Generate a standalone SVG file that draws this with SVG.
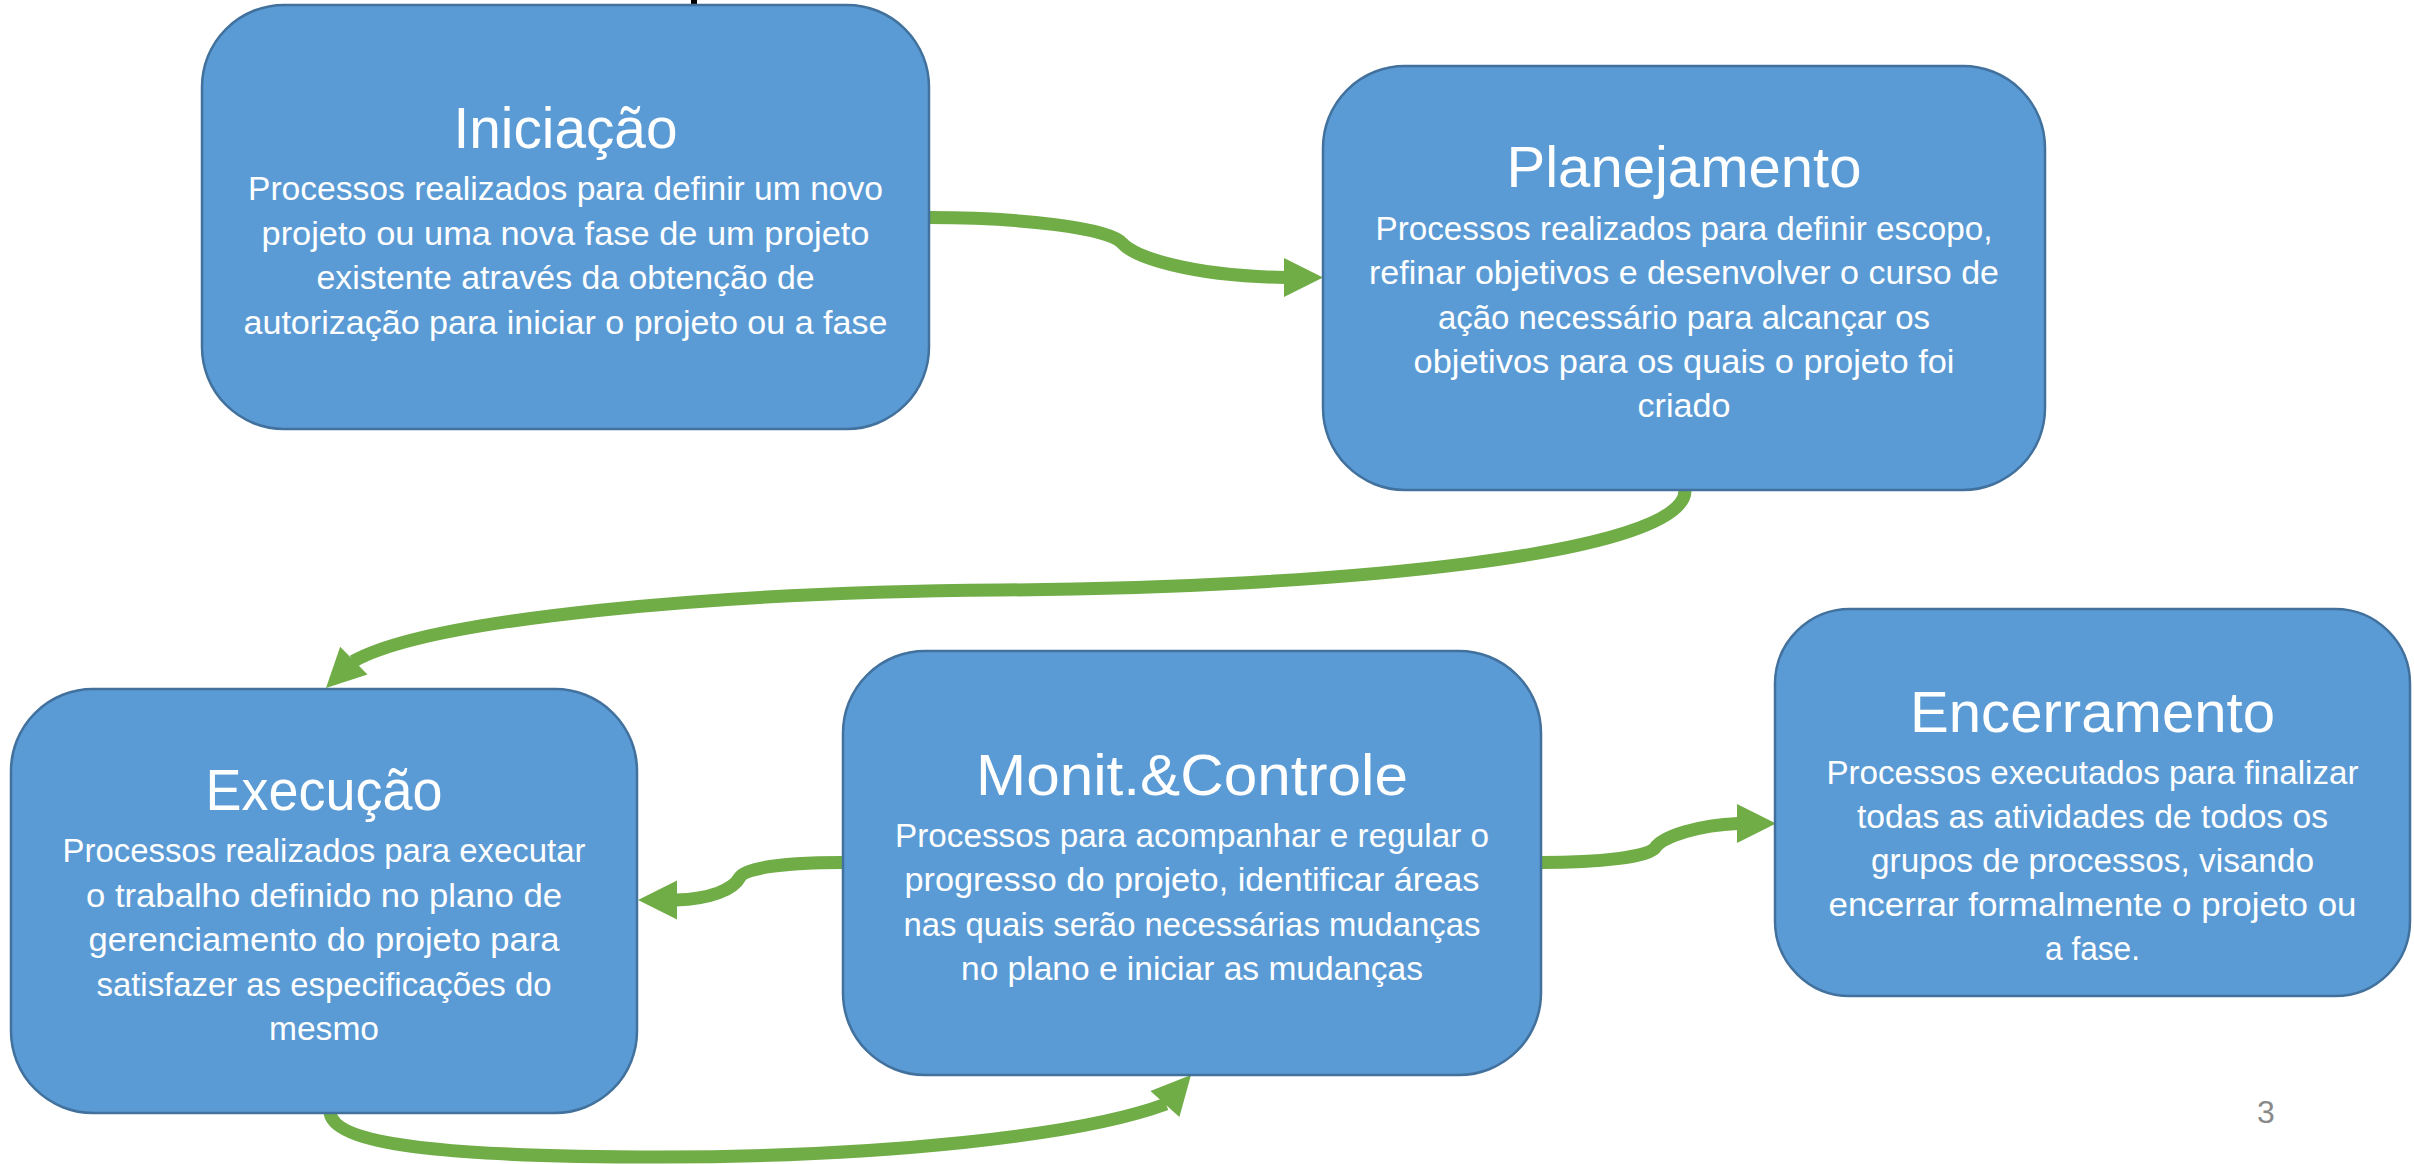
<svg xmlns="http://www.w3.org/2000/svg" xmlns:xlink="http://www.w3.org/1999/xlink" width="2414" height="1164" viewBox="0 0 2414 1164">
<style>
.box{fill:#5B9BD5;stroke:#41719C;stroke-width:2.5}
.t{font-family:"Liberation Sans",Arial,sans-serif;fill:#FFFFFF;text-anchor:middle}
.ti{font-size:57px}
.b{font-size:33px}
.c{fill:none;stroke:#70AD47;stroke-width:13}
.ah{fill:#70AD47}
.pg{font-family:"Liberation Sans",Arial,sans-serif;fill:#898989;font-size:32px;text-anchor:middle}
</style>
<defs>
<path id="head" d="M0,0 L-39,-19.5 L-39,19.5 Z"/>
</defs>
<rect width="2414" height="1164" fill="#FFFFFF"/>
<rect x="691" y="0" width="6" height="4.5" fill="#000000"/>

<g id="connectors">
<path class="c" d="M929,217.5 C1020,217.5 1110,228 1122,243 C1134,257 1190,276 1285,277.5"/>
<use xlink:href="#head" class="ah" transform="translate(1323,277.5)"/>
<path class="c" d="M1685,490 C1688,555 1330,588 1000,590 C720,592 430,618 353,661.5"/>
<use xlink:href="#head" class="ah" transform="translate(326,688) rotate(135.5)"/>
<path class="c" d="M843,862.5 C785,862.5 745,868 740,877 C733,890 710,899 676,900"/>
<use xlink:href="#head" class="ah" transform="translate(638,900) rotate(180)"/>
<path class="c" d="M330,1113 C336,1148 470,1157 660,1157 C880,1157 1080,1136 1166,1104"/>
<use xlink:href="#head" class="ah" transform="translate(1191,1075) rotate(-48)"/>
<path class="c" d="M1541,862.5 C1600,862.5 1648,857 1655,848 C1663,836 1700,825 1738,823.5"/>
<use xlink:href="#head" class="ah" transform="translate(1776,823.5)"/>
</g>

<g id="iniciacao">
<rect class="box" x="202" y="5" width="727" height="424" rx="82" ry="82"/>
<text class="t ti" x="565.5" y="148" textLength="224" lengthAdjust="spacingAndGlyphs">Iniciação</text>
<text class="t b" x="565.5" y="200" textLength="635" lengthAdjust="spacingAndGlyphs">Processos realizados para definir um novo</text>
<text class="t b" x="565.5" y="244.5" textLength="608" lengthAdjust="spacingAndGlyphs">projeto ou uma nova fase de um projeto</text>
<text class="t b" x="565.5" y="289" textLength="498" lengthAdjust="spacingAndGlyphs">existente através da obtenção de</text>
<text class="t b" x="565.5" y="333.5" textLength="644" lengthAdjust="spacingAndGlyphs">autorização para iniciar o projeto ou a fase</text>
</g>

<g id="planejamento">
<rect class="box" x="1323" y="66" width="722" height="424" rx="82" ry="82"/>
<text class="t ti" x="1684" y="187" textLength="355" lengthAdjust="spacingAndGlyphs">Planejamento</text>
<text class="t b" x="1684" y="240" textLength="617" lengthAdjust="spacingAndGlyphs">Processos realizados para definir escopo,</text>
<text class="t b" x="1684" y="284" textLength="630" lengthAdjust="spacingAndGlyphs">refinar objetivos e desenvolver o curso de</text>
<text class="t b" x="1684" y="328.5" textLength="492" lengthAdjust="spacingAndGlyphs">ação necessário para alcançar os</text>
<text class="t b" x="1684" y="373" textLength="541" lengthAdjust="spacingAndGlyphs">objetivos para os quais o projeto foi</text>
<text class="t b" x="1684" y="417" textLength="93" lengthAdjust="spacingAndGlyphs">criado</text>
</g>

<g id="execucao">
<rect class="box" x="11" y="689" width="626" height="424" rx="82" ry="82"/>
<text class="t ti" x="324" y="810" textLength="237" lengthAdjust="spacingAndGlyphs">Execução</text>
<text class="t b" x="324" y="862" textLength="523" lengthAdjust="spacingAndGlyphs">Processos realizados para executar</text>
<text class="t b" x="324" y="907" textLength="476" lengthAdjust="spacingAndGlyphs">o trabalho definido no plano de</text>
<text class="t b" x="324" y="951" textLength="471" lengthAdjust="spacingAndGlyphs">gerenciamento do projeto para</text>
<text class="t b" x="324" y="996" textLength="455" lengthAdjust="spacingAndGlyphs">satisfazer as especificações do</text>
<text class="t b" x="324" y="1040" textLength="110" lengthAdjust="spacingAndGlyphs">mesmo</text>
</g>

<g id="monitoramento">
<rect class="box" x="843" y="651" width="698" height="424" rx="82" ry="82"/>
<text class="t ti" x="1192" y="795" textLength="432" lengthAdjust="spacingAndGlyphs">Monit.&amp;Controle</text>
<text class="t b" x="1192" y="847" textLength="594" lengthAdjust="spacingAndGlyphs">Processos para acompanhar e regular o</text>
<text class="t b" x="1192" y="891" textLength="575" lengthAdjust="spacingAndGlyphs">progresso do projeto, identificar áreas</text>
<text class="t b" x="1192" y="936" textLength="577" lengthAdjust="spacingAndGlyphs">nas quais serão necessárias mudanças</text>
<text class="t b" x="1192" y="980" textLength="462" lengthAdjust="spacingAndGlyphs">no plano e iniciar as mudanças</text>
</g>

<g id="encerramento">
<rect class="box" x="1775" y="609" width="635" height="387" rx="75" ry="75"/>
<text class="t ti" x="2092.5" y="732" textLength="365" lengthAdjust="spacingAndGlyphs">Encerramento</text>
<text class="t b" x="2092.5" y="784" textLength="532" lengthAdjust="spacingAndGlyphs">Processos executados para finalizar</text>
<text class="t b" x="2092.5" y="828" textLength="471" lengthAdjust="spacingAndGlyphs">todas as atividades de todos os</text>
<text class="t b" x="2092.5" y="872" textLength="443" lengthAdjust="spacingAndGlyphs">grupos de processos, visando</text>
<text class="t b" x="2092.5" y="916" textLength="528" lengthAdjust="spacingAndGlyphs">encerrar formalmente o projeto ou</text>
<text class="t b" x="2092.5" y="960" textLength="95" lengthAdjust="spacingAndGlyphs">a fase.</text>
</g>

<text class="pg" x="2266" y="1123">3</text>
</svg>
